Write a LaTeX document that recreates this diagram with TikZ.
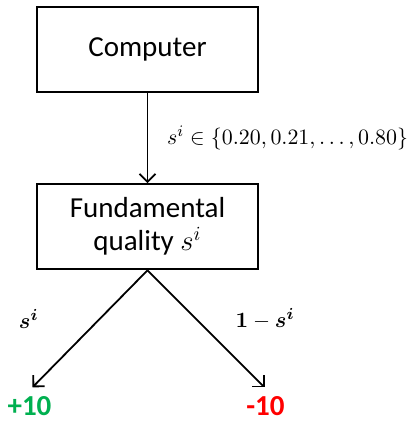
\documentclass[tikz,border=0pt]{standalone}
\usepackage{fontspec}
\setmainfont{Carlito}
\usepackage{amsmath}
\usetikzlibrary{positioning, arrows.meta}
\definecolor{wingreen}{RGB}{0,176,80}
\definecolor{losered}{RGB}{255,0,0}

\begin{document}
\begin{tikzpicture}[x=0.5pt, y=0.5pt, node distance=45pt, line width=0.9pt,
    >={Straight Barb[length=4pt, width=8pt]},
    box/.style={draw, line width=1.1pt, minimum width=110.5pt, minimum height=42.5pt,
      align=center, font=\fontsize{14.5}{16.5}\selectfont},
    payoff/.style={inner sep=0.5pt, font=\fontsize{14.5}{17}\selectfont\bfseries},
    prob/.style={font=\fontsize{11}{13}\selectfont}]

  \useasboundingbox (0,0) rectangle (410,-422);

  \node[box] (comp) at (147.5,-49.5) {Computer};
  \node[box, below=of comp] (qual) {Fundamental\\quality $s^i$};

  \coordinate (win) at ([shift={(-115,-117)}]qual.south);
  \coordinate (lose) at ([shift={(117,-117)}]qual.south);

  \node[payoff, text=wingreen] (plus) at ([shift={(-3,-19)}]win) {+10};
  \node[payoff, text=losered] (minus) at ([shift={(1,-19)}]lose) {-10};

  \path[->] (comp) edge node[right=6pt, font=\fontsize{10.8}{12}\selectfont]
    {$s^i \in \{0.20, 0.21, \ldots, 0.80\}$} (qual);
  \path[->] (qual.south) edge node[prob, left=22pt, yshift=5pt]
    {$\boldsymbol{s^i}$} (win);
  \path[->] (qual.south) edge node[prob, right=11pt, yshift=5pt]
    {$\boldsymbol{1}-\boldsymbol{s^i}$} (lose);

\end{tikzpicture}
\end{document}
